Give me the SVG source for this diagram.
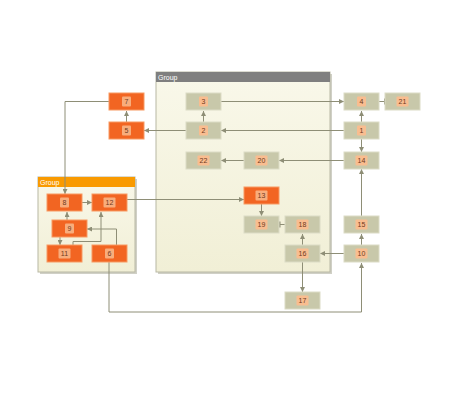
<svg xmlns="http://www.w3.org/2000/svg" width="460" height="400" viewBox="0 0 460 400">
<defs>
<linearGradient id="gbg" x1="0" y1="0" x2="0" y2="1">
<stop offset="0" stop-color="#f9f8ea"/><stop offset="1" stop-color="#f1efd6"/>
</linearGradient>
<marker id="ah" viewBox="0 0 6 6" refX="6" refY="3" markerWidth="5" markerHeight="5" markerUnits="userSpaceOnUse" orient="auto">
<path d="M0,0 L6,3 L0,6 z" fill="#8e8e76"/>
</marker>
<marker id="tee" viewBox="0 0 2 8" refX="2" refY="4" markerWidth="1.5" markerHeight="7" markerUnits="userSpaceOnUse" orient="auto">
<rect x="0" y="0" width="2" height="8" fill="#8e8e76"/>
</marker>
</defs>
<style>
.grp{fill:url(#gbg);stroke:#b8b8a4;stroke-width:1}
.shadow{fill:#b0b0a0;opacity:0.6}
.gt{font-family:"Liberation Sans",Arial,sans-serif;font-size:7px;fill:#ffffff}
.g rect.b{fill:#c8c8aa;stroke:#dcdcc6;stroke-width:1}
.o rect.b{fill:#f26522;stroke:#f79a62;stroke-width:1}
.lb{fill:#f9bd90}
.o .lb{fill:#f8ad7c}
.t{font-family:"Liberation Sans",Arial,sans-serif;font-size:7px;fill:#6e3a1c;text-anchor:middle}
.c path{fill:none;stroke:#8e8e76;stroke-width:1;marker-end:url(#ah)}
.c path.tt{marker-end:url(#tee)}
</style>
<rect width="460" height="400" fill="#ffffff"/>
<g id="group1">
<rect class="shadow" x="158" y="74" width="174" height="200"/>
<rect class="grp" x="156" y="72" width="174" height="200"/>
<rect x="156" y="72" width="174" height="10" fill="#7f7f7f"/>
<text class="gt" x="158" y="80">Group</text>
</g>
<g id="group2">
<rect class="shadow" x="40" y="179" width="97" height="95"/>
<rect class="grp" x="38" y="177" width="97" height="95"/>
<rect x="38" y="177" width="97" height="10" fill="#f99a00"/>
<text class="gt" x="40" y="185">Group</text>
</g>
<g class="c" id="connectors">
<path d="M221,101.5 H344"/>
<path d="M203.5,122 V111"/>
<path d="M344,130.5 H221"/>
<path d="M186,130.5 H144"/>
<path d="M126.5,122 V111"/>
<path d="M109,101.5 H65 V194"/>
<path d="M344,160.5 H279"/>
<path d="M244,160.5 H221"/>
<path d="M361.5,122 V111"/>
<path d="M361.5,139 V152"/>
<path class="tt" d="M379,101.5 H385"/>
<path d="M361.5,216 V169"/>
<path d="M361.5,245 V234"/>
<path d="M344,253.5 H320"/>
<path d="M302.5,245 V234"/>
<path d="M302.5,262 V292"/>
<path d="M261.5,204 V216"/>
<path class="tt" d="M285,224.5 H279"/>
<path d="M127,199.5 H244"/>
<path d="M82,202.5 H92"/>
<path d="M67,220 V212"/>
<path d="M60,237 V245"/>
<path d="M73,245 V241.5 H101 V212"/>
<path d="M116.5,245 V229 H87"/>
<path d="M109,262 V312 H361.5 V263"/>
</g>
<g id="n3" class="g"><rect class="b" x="186" y="93" width="35" height="17"/><rect class="lb" x="199" y="96.5" width="9" height="10" rx="1"/><text class="t" x="203.5" y="104">3</text></g>
<g id="n2" class="g"><rect class="b" x="186" y="122" width="35" height="17"/><rect class="lb" x="199" y="125.5" width="9" height="10" rx="1"/><text class="t" x="203.5" y="133">2</text></g>
<g id="n22" class="g"><rect class="b" x="186" y="152" width="35" height="17"/><rect class="lb" x="197.5" y="155.5" width="12" height="10" rx="1"/><text class="t" x="203.5" y="163">22</text></g>
<g id="n20" class="g"><rect class="b" x="244" y="152" width="35" height="17"/><rect class="lb" x="255.5" y="155.5" width="12" height="10" rx="1"/><text class="t" x="261.5" y="163">20</text></g>
<g id="n13" class="o"><rect class="b" x="244" y="187" width="35" height="17"/><rect class="lb" x="255.5" y="190.5" width="12" height="10" rx="1"/><text class="t" x="261.5" y="198">13</text></g>
<g id="n19" class="g"><rect class="b" x="244" y="216" width="35" height="17"/><rect class="lb" x="255.5" y="219.5" width="12" height="10" rx="1"/><text class="t" x="261.5" y="227">19</text></g>
<g id="n18" class="g"><rect class="b" x="285" y="216" width="35" height="17"/><rect class="lb" x="296.5" y="219.5" width="12" height="10" rx="1"/><text class="t" x="302.5" y="227">18</text></g>
<g id="n16" class="g"><rect class="b" x="285" y="245" width="35" height="17"/><rect class="lb" x="296.5" y="248.5" width="12" height="10" rx="1"/><text class="t" x="302.5" y="256">16</text></g>
<g id="n17" class="g"><rect class="b" x="285" y="292" width="35" height="17"/><rect class="lb" x="296.5" y="295.5" width="12" height="10" rx="1"/><text class="t" x="302.5" y="303">17</text></g>
<g id="n4" class="g"><rect class="b" x="344" y="93" width="35" height="17"/><rect class="lb" x="357" y="96.5" width="9" height="10" rx="1"/><text class="t" x="361.5" y="104">4</text></g>
<g id="n21" class="g"><rect class="b" x="385" y="93" width="35" height="17"/><rect class="lb" x="396.5" y="96.5" width="12" height="10" rx="1"/><text class="t" x="402.5" y="104">21</text></g>
<g id="n1" class="g"><rect class="b" x="344" y="122" width="35" height="17"/><rect class="lb" x="357" y="125.5" width="9" height="10" rx="1"/><text class="t" x="361.5" y="133">1</text></g>
<g id="n14" class="g"><rect class="b" x="344" y="152" width="35" height="17"/><rect class="lb" x="355.5" y="155.5" width="12" height="10" rx="1"/><text class="t" x="361.5" y="163">14</text></g>
<g id="n15" class="g"><rect class="b" x="344" y="216" width="35" height="17"/><rect class="lb" x="355.5" y="219.5" width="12" height="10" rx="1"/><text class="t" x="361.5" y="227">15</text></g>
<g id="n10" class="g"><rect class="b" x="344" y="245" width="35" height="17"/><rect class="lb" x="355.5" y="248.5" width="12" height="10" rx="1"/><text class="t" x="361.5" y="256">10</text></g>
<g id="n7" class="o"><rect class="b" x="109" y="93" width="35" height="17"/><rect class="lb" x="122" y="96.5" width="9" height="10" rx="1"/><text class="t" x="126.5" y="104">7</text></g>
<g id="n5" class="o"><rect class="b" x="109" y="122" width="35" height="17"/><rect class="lb" x="122" y="125.5" width="9" height="10" rx="1"/><text class="t" x="126.5" y="133">5</text></g>
<g id="n8" class="o"><rect class="b" x="47" y="194" width="35" height="17"/><rect class="lb" x="60" y="197.5" width="9" height="10" rx="1"/><text class="t" x="64.5" y="205">8</text></g>
<g id="n12" class="o"><rect class="b" x="92" y="194" width="35" height="17"/><rect class="lb" x="103.5" y="197.5" width="12" height="10" rx="1"/><text class="t" x="109.5" y="205">12</text></g>
<g id="n9" class="o"><rect class="b" x="52" y="220" width="35" height="17"/><rect class="lb" x="65" y="223.5" width="9" height="10" rx="1"/><text class="t" x="69.5" y="231">9</text></g>
<g id="n11" class="o"><rect class="b" x="47" y="245" width="35" height="17"/><rect class="lb" x="58.5" y="248.5" width="12" height="10" rx="1"/><text class="t" x="64.5" y="256">11</text></g>
<g id="n6" class="o"><rect class="b" x="92" y="245" width="35" height="17"/><rect class="lb" x="105" y="248.5" width="9" height="10" rx="1"/><text class="t" x="109.5" y="256">6</text></g>
</svg>
